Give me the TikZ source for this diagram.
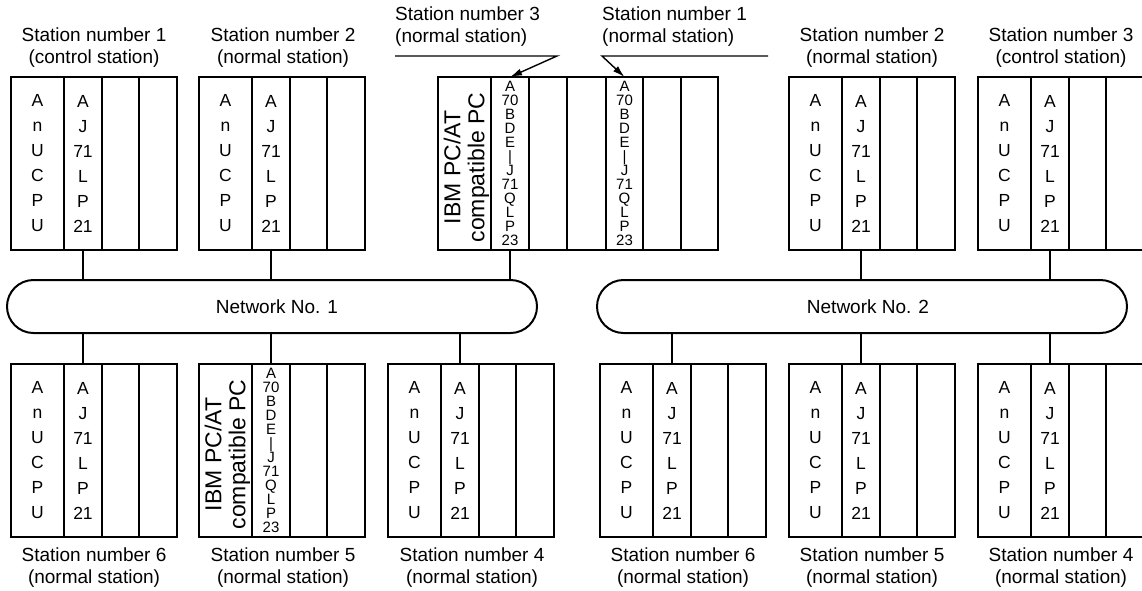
\documentclass[tikz,border=0pt]{standalone}
\usepackage{fontspec}
\setmainfont{Liberation Sans}
\usetikzlibrary{arrows.meta}
\tikzset{
  slot/.style={draw, line width=1.4pt, minimum height=173pt, inner sep=0pt, outer sep=0pt,
    align=center, font=\fontsize{17.5}{25}\selectfont, anchor=north west},
  smallcol/.style={font=\fontsize{15}{14}\selectfont},
  pctext/.style={rotate=90, align=center, inner sep=0pt, font=\fontsize{23}{24}\selectfont},
  lbl/.style={inner sep=0pt, font=\fontsize{19}{22}\selectfont},
  net/.style={draw, line width=2pt, rounded corners=26.5pt, minimum width=530pt,
    minimum height=53pt, inner sep=0pt, outer sep=0pt, font=\fontsize{19}{22}\selectfont},
  conn/.style={line width=1.8pt},
  arr/.style={line width=1.4pt, -{Latex[length=12pt,width=7pt]}},
}
\newcommand\plcstation[3]{%
  \node[slot, minimum width=53pt] (#1a) at (#2,#3) {A\\n\\U\\C\\P\\U};
  \node[slot, minimum width=38pt] (#1b) at (#1a.north east) {A\\J\\71\\L\\P\\21};
  \node[slot, minimum width=37pt] (#1c) at (#1b.north east) {};
  \node[slot, minimum width=38pt] (#1d) at (#1c.north east) {};
}
\newcommand\pcstation[3]{%
  \node[slot, minimum width=53pt] (#1a) at (#2,#3) {};
  \node[pctext] at ([xshift=2pt,yshift=-4pt]#1a.center) {IBM PC/AT\\compatible PC};
  \node[slot, smallcol, minimum width=38pt] (#1b) at (#1a.north east) {A\\70\\B\\D\\E\\|\\J\\71\\Q\\L\\P\\23};
  \node[slot, minimum width=37pt] (#1c) at (#1b.north east) {};
  \node[slot, minimum width=38pt] (#1d) at (#1c.north east) {};
}
\begin{document}
\begin{tikzpicture}[x=1pt,y=-1pt]
\useasboundingbox (0,0) rectangle (1142,590);

% networks
\node[net, label={[lbl, xshift=5pt]center:Network No. 1}] (net1) at (272,306.5) {};
\node[net, label={[lbl, xshift=6pt]center:Network No. 2}] (net2) at (862,306.5) {};

% top stations
\plcstation{sa}{11}{77}
\plcstation{sb}{199}{77}
\node[slot, minimum width=53pt] (pa) at (438,77) {};
\node[pctext] at ([xshift=2pt,yshift=-4pt]pa.center) {IBM PC/AT\\compatible PC};
\node[slot, smallcol, minimum width=38pt] (pb) at (pa.north east) {A\\70\\B\\D\\E\\|\\J\\71\\Q\\L\\P\\23};
\node[slot, minimum width=38pt] (pc) at (pb.north east) {};
\node[slot, minimum width=39pt] (pd) at (pc.north east) {};
\node[slot, smallcol, minimum width=37pt] (pe) at (pd.north east) {A\\70\\B\\D\\E\\|\\J\\71\\Q\\L\\P\\23};
\node[slot, minimum width=38pt] (pf) at (pe.north east) {};
\node[slot, minimum width=37pt] (pg) at (pf.north east) {};
\plcstation{tb}{789}{77}
\plcstation{tc}{978}{77}

% bottom stations
\plcstation{ba}{11}{364}
\pcstation{bb}{199}{364}
\plcstation{bc}{388}{364}
\plcstation{ca}{600}{364}
\plcstation{cb}{789}{364}
\plcstation{cc}{978}{364}

% connectors
\foreach \s in {sab,sbb,pb} { \draw[conn] (\s.south) -- (\s.south |- net1.north); }
\foreach \s in {tbb,tcb} { \draw[conn] (\s.south) -- (\s.south |- net2.north); }
\foreach \s in {bab,bbb,bcb} { \draw[conn] (\s.north) -- (\s.north |- net1.south); }
\foreach \s in {cab,cbb,ccb} { \draw[conn] (\s.north) -- (\s.north |- net2.south); }

% top labels
\node[lbl, align=center, anchor=north] (lsa) at (94,28) {Station number 1\\(control station)};
\node[lbl, align=center, anchor=north] (lsb) at (283,28) {Station number 2\\(normal station)};
\node[lbl, align=center, anchor=north] (ltb) at (872,28) {Station number 2\\(normal station)};
\node[lbl, align=center, anchor=north] (ltc) at (1061,28) {Station number 3\\(control station)};
\node[lbl, align=left, anchor=north west] (lp3) at (395,7) {Station number 3\\(normal station)};
\node[lbl, align=left, anchor=north west] (lp1) at (602,7) {Station number 1\\(normal station)};

% pointers
\coordinate (p3s) at (395,56);
\coordinate (p3e) at (557,56);
\coordinate (p1s) at (768,56);
\coordinate (p1e) at (602,56);
\draw[arr] (p3s) -- (p3e) -- (pb.north);
\draw[arr] (p1s) -- (p1e) -- (pe.north);

% bottom labels
\node[lbl, align=center, anchor=north] (lba) at (94,548) {Station number 6\\(normal station)};
\node[lbl, align=center, anchor=north] (lbb) at (283,548) {Station number 5\\(normal station)};
\node[lbl, align=center, anchor=north] (lbc) at (472,548) {Station number 4\\(normal station)};
\node[lbl, align=center, anchor=north] (lca) at (683,548) {Station number 6\\(normal station)};
\node[lbl, align=center, anchor=north] (lcb) at (872,548) {Station number 5\\(normal station)};
\node[lbl, align=center, anchor=north] (lcc) at (1061,548) {Station number 4\\(normal station)};
\end{tikzpicture}
\end{document}
